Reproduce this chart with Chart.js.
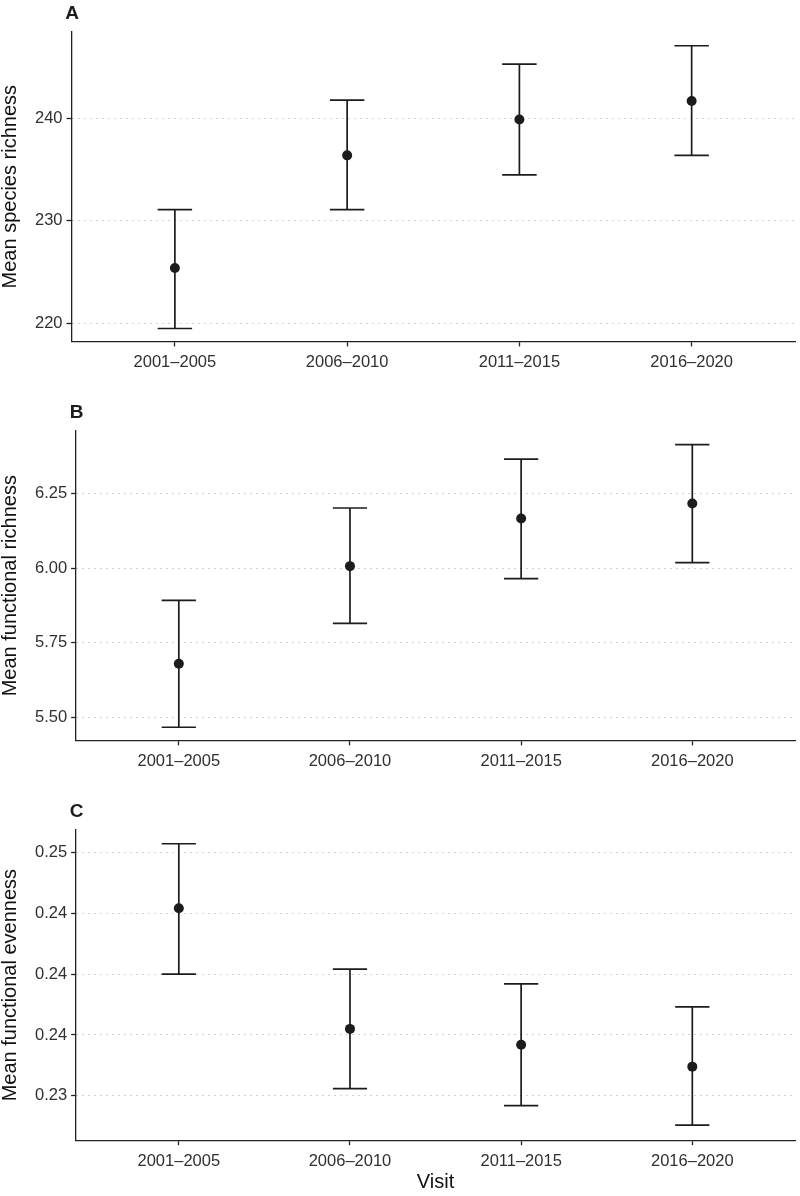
<!DOCTYPE html>
<html>
<head>
<meta charset="utf-8">
<script src="https://cdn.jsdelivr.net/npm/chart.js@4.4.1/dist/chart.umd.min.js"></script>
<style>
body{margin:0;background:#fff;}
.panel{position:absolute;left:0;width:800px;}
</style>
</head>
<body>

<div class="panel" style="top:0;height:399px"><canvas id="chartA" width="800" height="399"></canvas></div>
<div class="panel" style="top:399px;height:399px"><canvas id="chartB" width="800" height="399"></canvas></div>
<div class="panel" style="top:798px;height:398px"><canvas id="chartC" width="800" height="398"></canvas></div>

<script>

const visits = ["2001–2005","2006–2010","2011–2015","2016–2020"];

const speciesMean = [225.4, 236.4, 239.9, 241.7];
const speciesLow = [219.5, 231.1, 234.5, 236.4];
const speciesHigh = [231.1, 241.8, 245.3, 247.1];
const speciesRange = [218.24, 248.44];
const speciesTicks = [220, 230, 240];
const speciesTickLabels = ["220","230","240"];

const fricMean = [5.680, 6.007, 6.167, 6.217];
const fricLow = [5.467, 5.815, 5.965, 6.019];
const fricHigh = [5.892, 6.202, 6.366, 6.414];
const fricRange = [5.423, 6.46];
const fricTicks = [5.50, 5.75, 6.00, 6.25];
const fricTickLabels = ["5.50","5.75","6.00","6.25"];

const fevenMean = [0.2454, 0.2355, 0.2342, 0.2324];
const fevenLow = [0.2400, 0.2306, 0.2292, 0.2276];
const fevenHigh = [0.2507, 0.2404, 0.2392, 0.2373];
const fevenRange = [0.22636, 0.25183];
const fevenTicks = [0.230, 0.235, 0.240, 0.245, 0.250];
const fevenTickLabels = ["0.23","0.24","0.24","0.24","0.25"];

Chart.defaults.font.family = '"Liberation Sans", Arial, Helvetica, sans-serif';
Chart.defaults.color = "#303030";

const INK = "#1c1c1c";

const errorBars = {
id:"errorBars",
beforeDatasetsDraw(chart, args, opts){
const ds = chart.data.datasets[0];
const x = chart.scales.x, y = chart.scales.y, ctx = chart.ctx;
ctx.save();
ctx.strokeStyle = opts.color;
ctx.lineWidth = opts.width;
ds.data.forEach((p,i)=>{
const px = x.getPixelForValue(p.x);
const l = x.getPixelForValue(p.x - opts.cap);
const r = x.getPixelForValue(p.x + opts.cap);
const yl = y.getPixelForValue(ds.lows[i]);
const yh = y.getPixelForValue(ds.highs[i]);
ctx.beginPath();
ctx.moveTo(px,yl); ctx.lineTo(px,yh);
ctx.moveTo(l,yl); ctx.lineTo(r,yl);
ctx.moveTo(l,yh); ctx.lineTo(r,yh);
ctx.stroke();
});
ctx.restore();
}
};

const panelTag = {
id:"panelTag",
afterDraw(chart, args, opts){
const ctx = chart.ctx;
ctx.save();
ctx.fillStyle = INK;
ctx.font = 'bold 19px "Liberation Sans", Arial, sans-serif';
ctx.textAlign = "center";
ctx.textBaseline = "middle";
ctx.fillText(opts.text, chart.chartArea.left + 0.5, 13.5);
ctx.restore();
}
};

function makePanel(id, tag, yTitle, means, lows, highs, range, tickVals, tickLabels, showVisit){

new Chart(document.getElementById(id),{
type:"scatter",
data:{
datasets:[{
data:means.map((m,i)=>({x:i+1,y:m})),
lows:lows,
highs:highs,
pointRadius:5,
pointHoverRadius:5,
pointBorderWidth:0,
pointBackgroundColor:INK
}]
},
options:{
responsive:false,
animation:false,
events:[],
layout:{padding:{top:32,right:4,left:0,bottom:showVisit?11:20.8}},
plugins:{
legend:{display:false},
tooltip:{enabled:false},
errorBars:{color:INK,width:1.7,cap:0.1},
panelTag:{text:tag}
},
scales:{
x:{
type:"linear",
min:0.4,
max:4.6,
afterBuildTicks:s=>{ s.ticks = visits.map((v,i)=>({value:i+1})); },
ticks:{
callback:(v,i)=>visits[i],
color:"#303030",
font:{size:16.5},
padding:6,
maxRotation:0,
autoSkip:false
},
grid:{drawOnChartArea:false,drawTicks:true,tickLength:5,tickWidth:1.3,tickColor:"#222"},
border:{color:"#222",width:1.3},
title:{display:showVisit,text:"Visit",color:"#111",font:{size:20,lineHeight:0.3},padding:{top:2,bottom:0}}
},
y:{
min:range[0],
max:range[1],
afterBuildTicks:s=>{ s.ticks = tickVals.map(v=>({value:v})); },
ticks:{
callback:(v,i)=>tickLabels[i],
color:"#303030",
font:{size:16.5},
padding:4,
autoSkip:false
},
grid:{color:"#c2c2c2",lineWidth:1,drawTicks:true,tickLength:5,tickWidth:1.3,tickColor:"#222"},
border:{color:"#222",width:1.3,dash:[1.5,4.5]},
title:{display:true,text:yTitle,color:"#111",font:{size:20,lineHeight:1},padding:{top:0,bottom:11}}
}
}
},
plugins:[errorBars,panelTag]
});

}

makePanel("chartA","A","Mean species richness",speciesMean,speciesLow,speciesHigh,speciesRange,speciesTicks,speciesTickLabels,false);
makePanel("chartB","B","Mean functional richness",fricMean,fricLow,fricHigh,fricRange,fricTicks,fricTickLabels,false);
makePanel("chartC","C","Mean functional evenness",fevenMean,fevenLow,fevenHigh,fevenRange,fevenTicks,fevenTickLabels,true);

</script>
</body>
</html>
